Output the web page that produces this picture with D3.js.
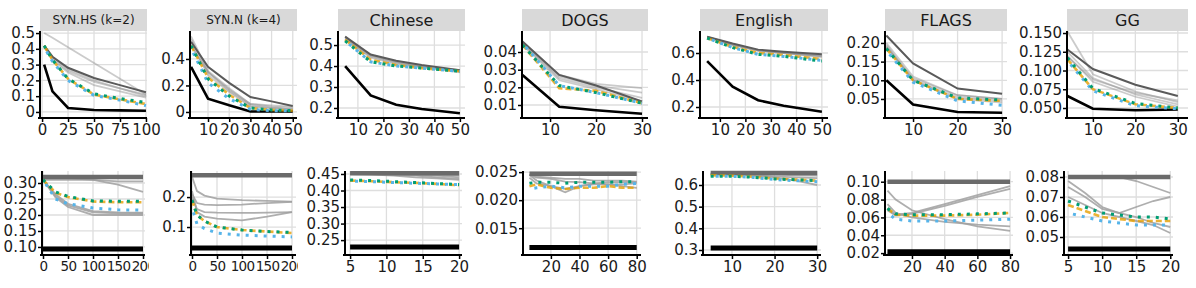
<!DOCTYPE html>
<html>
<head>
<meta charset="utf-8">
<script src="https://cdn.jsdelivr.net/npm/d3@7"></script>
<style>
  body { margin: 0; background: #fff; }
  svg { display: block; font-family: "DejaVu Sans", sans-serif; }
</style>
</head>
<body>
<svg id="chart"></svg>
<script>
// ---- data ----
const datasets = ["SYN.HS (k=2)", "SYN.N (k=4)", "Chinese", "DOGS", "English", "FLAGS", "GG"];

// top row: error vs. x
const topX = [
  [2, 10, 25, 50, 75, 100],
  [2, 10, 20, 30, 40, 50],
  [5, 15, 25, 35, 50],
  [4, 12, 20, 30],
  [5, 15, 25, 35, 50],
  [4, 10, 20, 30],
  [4, 10, 20, 30]
];
const topBlack = [
  [0.30, 0.13, 0.025, 0.012, 0.010, 0.008],
  [0.34, 0.10, 0.05, 0.004, 0.003, 0.003],
  [0.40, 0.26, 0.215, 0.195, 0.175],
  [0.027, 0.009, 0.007, 0.005],
  [0.54, 0.35, 0.25, 0.21, 0.165],
  [0.10, 0.035, 0.015, 0.013],
  [0.066, 0.049, 0.047, 0.048]
];
const topDark = [
  [0.42, 0.35, 0.28, 0.215, 0.17, 0.125],
  [0.53, 0.34, 0.22, 0.113, 0.08, 0.045],
  [0.54, 0.455, 0.425, 0.405, 0.38],
  [0.046, 0.027, 0.021, 0.012],
  [0.72, 0.67, 0.625, 0.61, 0.59],
  [0.22, 0.145, 0.078, 0.064],
  [0.128, 0.102, 0.081, 0.066]
];
const topGreys = [
  [[0.50, 0.47, 0.41, 0.31, 0.21, 0.11], [0.42, 0.34, 0.26, 0.19, 0.15, 0.11],
   [0.41, 0.33, 0.25, 0.17, 0.13, 0.09], [0.42, 0.35, 0.27, 0.20, 0.15, 0.10]],
  [[0.55, 0.30, 0.17, 0.06, 0.04, 0.03], [0.52, 0.28, 0.15, 0.04, 0.03, 0.02],
   [0.50, 0.30, 0.16, 0.05, 0.03, 0.02], [0.57, 0.31, 0.18, 0.06, 0.05, 0.04]],
  [[0.54, 0.45, 0.42, 0.40, 0.375], [0.53, 0.445, 0.415, 0.395, 0.37],
   [0.535, 0.45, 0.42, 0.40, 0.38], [0.53, 0.44, 0.41, 0.395, 0.375]],
  [[0.046, 0.027, 0.022, 0.0195], [0.045, 0.026, 0.021, 0.017],
   [0.045, 0.025, 0.020, 0.014], [0.044, 0.024, 0.019, 0.012]],
  [[0.72, 0.66, 0.62, 0.605, 0.58], [0.71, 0.66, 0.615, 0.60, 0.575],
   [0.72, 0.665, 0.62, 0.60, 0.57], [0.715, 0.66, 0.62, 0.60, 0.58]],
  [[0.20, 0.11, 0.06, 0.05], [0.19, 0.10, 0.055, 0.045],
   [0.19, 0.105, 0.06, 0.05], [0.195, 0.10, 0.05, 0.04]],
  [[0.152, 0.095, 0.072, 0.058], [0.125, 0.09, 0.068, 0.055],
   [0.12, 0.085, 0.065, 0.052], [0.118, 0.088, 0.07, 0.06]]
];
const topOrange = [
  [0.42, 0.33, 0.21, 0.11, 0.08, 0.05],
  [0.50, 0.26, 0.13, 0.03, 0.015, 0.01],
  [0.525, 0.43, 0.405, 0.39, 0.375],
  [0.044, 0.0195, 0.018, 0.011],
  [0.71, 0.645, 0.60, 0.585, 0.555],
  [0.185, 0.10, 0.05, 0.045],
  [0.115, 0.075, 0.055, 0.05]
];
const topBlue = [
  [0.41, 0.32, 0.20, 0.105, 0.075, 0.04],
  [0.48, 0.22, 0.10, 0.02, 0.01, 0.01],
  [0.52, 0.42, 0.40, 0.39, 0.375],
  [0.045, 0.021, 0.017, 0.011],
  [0.71, 0.64, 0.59, 0.575, 0.545],
  [0.18, 0.095, 0.045, 0.033],
  [0.113, 0.073, 0.053, 0.049]
];
const topGreen = [
  [0.42, 0.33, 0.21, 0.115, 0.085, 0.06],
  [0.50, 0.25, 0.12, 0.03, 0.015, 0.01],
  [0.52, 0.42, 0.40, 0.39, 0.375],
  [0.044, 0.021, 0.017, 0.011],
  [0.71, 0.64, 0.59, 0.575, 0.54],
  [0.185, 0.10, 0.053, 0.047],
  [0.117, 0.076, 0.056, 0.05]
];
const topXTicks = [[0, 25, 50, 75, 100], [10, 20, 30, 40, 50], [10, 20, 30, 40, 50],
  [10, 20, 30], [10, 20, 30, 40, 50], [10, 20, 30], [10, 20, 30]];
const topYTicks = [[0, 0.1, 0.2, 0.3, 0.4, 0.5], [0, 0.2, 0.4], [0.2, 0.3, 0.4, 0.5],
  [0.01, 0.02, 0.03, 0.04], [0.2, 0.4, 0.6], [0.05, 0.10, 0.15, 0.20],
  [0.05, 0.075, 0.10, 0.125, 0.15]];

// bottom row
const bottomX = [
  [0, 25, 50, 100, 150, 200],
  [0, 10, 25, 50, 100, 150, 200],
  [5, 8, 11, 14, 17, 20],
  [5, 10, 20, 30, 40, 50, 60, 70, 80],
  [5, 10, 15, 20, 25, 30],
  [5, 10, 20, 40, 60, 80],
  [5, 7.5, 10, 12.5, 15, 17.5, 20]
];
const bottomBlack = [0.094, 0.03, 0.229, 0.01155, 0.309, 0.0215, 0.044];
const bottomDark = [0.319, 0.273, 0.452, 0.0247, 0.655, 0.10, 0.08];
const bottomGreys = [
  [[0.31, 0.31, 0.31, 0.31, 0.305, 0.305], [0.32, 0.315, 0.315, 0.31, 0.295, 0.272],
   [0.31, 0.255, 0.225, 0.20, 0.20, 0.20], [0.31, 0.265, 0.235, 0.212, 0.208, 0.207],
   [0.31, 0.26, 0.23, 0.208, 0.205, 0.205]],
  [[0.268, 0.22, 0.205, 0.195, 0.19, 0.187, 0.185], [0.21, 0.18, 0.175, 0.173, 0.175, 0.18, 0.184],
   [0.20, 0.16, 0.15, 0.148, 0.147, 0.148, 0.15], [0.22, 0.15, 0.135, 0.128, 0.122, 0.135, 0.15]],
  [[0.452, 0.452, 0.45, 0.448, 0.445, 0.44], [0.452, 0.45, 0.448, 0.445, 0.44, 0.435],
   [0.452, 0.452, 0.451, 0.45, 0.448, 0.445], [0.45, 0.448, 0.445, 0.44, 0.437, 0.432]],
  [[0.0245, 0.0235, 0.0225, 0.0214, 0.0225, 0.023, 0.0232, 0.0232, 0.0232],
   [0.024, 0.023, 0.0225, 0.022, 0.0225, 0.0228, 0.0228, 0.0228, 0.023],
   [0.0245, 0.0242, 0.024, 0.0238, 0.0238, 0.0235, 0.0235, 0.0235, 0.0233],
   [0.0245, 0.024, 0.0238, 0.0233, 0.0232, 0.023, 0.0228, 0.0225, 0.0222]],
  [[0.652, 0.65, 0.645, 0.635, 0.62, 0.60], [0.65, 0.648, 0.645, 0.64, 0.635, 0.632],
   [0.652, 0.652, 0.65, 0.648, 0.645, 0.643]],
  [[0.07, 0.063, 0.065, 0.075, 0.085, 0.095], [0.068, 0.062, 0.064, 0.073, 0.083, 0.092],
   [0.09, 0.08, 0.068, 0.058, 0.05, 0.045], [0.075, 0.065, 0.06, 0.055, 0.052, 0.05]],
  [[0.08, 0.08, 0.08, 0.08, 0.078, 0.075, 0.072], [0.075, 0.07, 0.064, 0.062, 0.06, 0.057, 0.055],
   [0.07, 0.066, 0.062, 0.06, 0.058, 0.056, 0.052], [0.078, 0.072, 0.065, 0.062, 0.065, 0.068, 0.07]]
];
const bottomOrange = [
  [0.31, 0.27, 0.256, 0.242, 0.24, 0.24],
  [0.19, 0.14, 0.12, 0.10, 0.09, 0.085, 0.08],
  [0.43, 0.428, 0.425, 0.423, 0.42, 0.416],
  [0.0225, 0.0228, 0.0222, 0.022, 0.0222, 0.0222, 0.0225, 0.0222, 0.0222],
  [0.645, 0.643, 0.638, 0.63, 0.625, 0.62],
  [0.07, 0.063, 0.062, 0.062, 0.063, 0.065],
  [0.066, 0.063, 0.06, 0.059, 0.058, 0.058, 0.058]
];
const bottomBlue = [
  [0.31, 0.25, 0.235, 0.222, 0.216, 0.215],
  [0.165, 0.11, 0.095, 0.08, 0.073, 0.07, 0.067],
  [0.428, 0.427, 0.424, 0.422, 0.42, 0.418],
  [0.022, 0.0222, 0.0225, 0.0222, 0.0225, 0.0225, 0.0225, 0.0228, 0.023],
  [0.64, 0.64, 0.635, 0.625, 0.62, 0.615],
  [0.065, 0.058, 0.056, 0.056, 0.057, 0.058],
  [0.062, 0.06, 0.058, 0.057, 0.056, 0.056, 0.056]
];
const bottomGreen = [
  [0.31, 0.272, 0.258, 0.244, 0.243, 0.243],
  [0.19, 0.14, 0.12, 0.10, 0.09, 0.085, 0.082],
  [0.432, 0.43, 0.427, 0.424, 0.421, 0.418],
  [0.023, 0.0232, 0.0232, 0.023, 0.0232, 0.0232, 0.0232, 0.0233, 0.0233],
  [0.64, 0.64, 0.636, 0.628, 0.624, 0.62],
  [0.07, 0.064, 0.063, 0.063, 0.064, 0.065],
  [0.068, 0.065, 0.062, 0.061, 0.06, 0.06, 0.059]
];
const bottomXTicks = [[0, 50, 100, 150, 200], [0, 50, 100, 150, 200], [5, 10, 15, 20],
  [20, 40, 60, 80], [10, 20, 30], [20, 40, 60, 80], [5, 10, 15, 20]];
const bottomYTicks = [[0.10, 0.15, 0.20, 0.25, 0.30], [0.1, 0.2], [0.25, 0.30, 0.35, 0.40, 0.45],
  [0.015, 0.020, 0.025], [0.3, 0.4, 0.5, 0.6], [0.02, 0.04, 0.06, 0.08, 0.10],
  [0.05, 0.06, 0.07, 0.08]];

// ---- layout ----
const width = 1196, height = 288;
const topXRange = [[40, 147], [190, 297], [338, 465], [522, 648], [700, 828], [885, 1007], [1067, 1188]];
const topXDomain = [[-2, 101], [1.5, 52], [2.2, 52], [3.9, 31.3], [2.2, 52.4], [3.7, 31.1], [3.9, 32.4]];
const topYDomain = [[-0.032, 0.513], [-0.038, 0.611], [0.157, 0.567], [0.0032, 0.0519],
  [0.126, 0.763], [0.0017, 0.232], [0.038, 0.1527]];
const topYFormat = ["", "", ".1f", ".2f", ".1f", ".2f", ".3f"];

const bottomXRange = [[42, 145], [191, 296], [345, 462], [523, 641], [703, 821], [885, 1013], [1064, 1173]];
const bottomXDomain = [[-2, 204], [-2, 208], [4.3, 20.4], [0.5, 83], [3.2, 30.9], [3.5, 81.8], [4.4, 20.4]];
const bottomYDomain = [[0.078, 0.3375], [0.01, 0.287], [0.208, 0.459], [0.0104, 0.0252],
  [0.2815, 0.6646], [0.019, 0.112], [0.0415, 0.083]];
const bottomYFormat = [".2f", ".1f", ".2f", ".3f", ".1f", ".2f", ".2f"];
const bottomClipRight = [149, 298, 480, 660, 840, 1030, 1196];
const bottomXFont = ["13.5px", "13.5px", "15px", "15px", "15px", "15px", "15px"];

const svg = d3.select('#chart').attr('width', width).attr('height', height);

const rows = [
  { top: 31, bottom: 117, xs: topX, black: topBlack, dark: topDark, greys: topGreys,
    orange: topOrange, blue: topBlue, green: topGreen, xTicks: topXTicks, yTicks: topYTicks,
    xRange: topXRange, xDomain: topXDomain, yDomain: topYDomain, yFormat: topYFormat, strip: true },
  { top: 171, bottom: 254, xs: bottomX, black: bottomBlack, dark: bottomDark, greys: bottomGreys,
    orange: bottomOrange, blue: bottomBlue, green: bottomGreen, xTicks: bottomXTicks, yTicks: bottomYTicks,
    xRange: bottomXRange, xDomain: bottomXDomain, yDomain: bottomYDomain, yFormat: bottomYFormat, strip: false }
];

rows.forEach((row, r) => {
  datasets.forEach((name, i) => {
    const x = d3.scaleLinear().domain(row.xDomain[i]).range(row.xRange[i]);
    const y = d3.scaleLinear().domain(row.yDomain[i]).range([row.bottom, row.top]);
    const xs = row.xs[i];
    const [x0, x1] = row.xRange[i];

    const g = svg.append('g');

    // grid
    g.selectAll('.vgrid').data(row.xTicks[i]).enter().append('line')
      .attr('x1', d => x(d)).attr('x2', d => x(d))
      .attr('y1', row.top).attr('y2', row.bottom)
      .attr('stroke', '#dedede').attr('stroke-width', 1.3);
    g.selectAll('.hgrid').data(row.yTicks[i]).enter().append('line')
      .attr('x1', x0).attr('x2', x1)
      .attr('y1', d => y(d)).attr('y2', d => y(d))
      .attr('stroke', '#dedede').attr('stroke-width', 1.3);

    // strip
    if (row.strip) {
      g.append('rect')
        .attr('x', x0).attr('y', 9).attr('width', x1 - x0).attr('height', 22)
        .attr('fill', '#d9d9d9');
      g.append('text')
        .attr('x', (x0 + x1) / 2).attr('y', 20)
        .attr('dy', '0.36em')
        .attr('text-anchor', 'middle')
        .attr('font-size', name.startsWith('SYN') ? '12px' : '16px')
        .attr('fill', '#1a1a1a')
        .text(name);
    }

    const line = d3.line().x((d, j) => x(xs[j])).y(d => y(d));
    const flat = v => [v, v].map((d, j) => ({ px: x(j === 0 ? xs[0] : xs[xs.length - 1]), py: y(d) }));

    // grey lines
    row.greys[i].forEach(vals => {
      g.append('path').datum(vals)
        .attr('d', line)
        .attr('fill', 'none')
        .attr('stroke', r === 0 ? '#8c8c8c' : '#a0a0a0')
        .attr('stroke-opacity', r === 0 ? 0.45 : 0.85)
        .attr('stroke-width', 1.8);
    });

    // dark grey + black
    if (r === 0) {
      g.append('path').datum(row.dark[i]).attr('d', line)
        .attr('fill', 'none').attr('stroke', '#5a5a5a').attr('stroke-width', 2);
      g.append('path').datum(row.black[i]).attr('d', line)
        .attr('fill', 'none').attr('stroke', '#000').attr('stroke-width', 2.6);
    } else {
      const lineFlat = d3.line().x(d => d.px).y(d => d.py);
      g.append('path').datum(flat(row.dark[i])).attr('d', lineFlat)
        .attr('fill', 'none').attr('stroke', '#6b6b6b').attr('stroke-width', 4.5);
      g.append('path').datum(flat(row.black[i])).attr('d', lineFlat)
        .attr('fill', 'none').attr('stroke', '#000').attr('stroke-width', 5);
    }

    // coloured lines
    g.append('path').datum(row.orange[i]).attr('d', line)
      .attr('fill', 'none').attr('stroke', '#E69F00').attr('stroke-width', 2.6)
      .attr('stroke-dasharray', '6,3').attr('stroke-opacity', 0.8);
    g.append('path').datum(row.blue[i]).attr('d', line)
      .attr('fill', 'none').attr('stroke', '#56B4E9').attr('stroke-width', 3)
      .attr('stroke-dasharray', '3,6').attr('stroke-dashoffset', 4);
    g.append('path').datum(row.green[i]).attr('d', line)
      .attr('fill', 'none').attr('stroke', '#009E73').attr('stroke-width', 3)
      .attr('stroke-dasharray', '3,6');

    // axes
    const yAxis = d3.axisLeft(y).tickValues(row.yTicks[i])
      .tickFormat(d3.format(row.yFormat[i])).tickSize(4).tickSizeOuter(0).tickPadding(1);
    const xAxis = d3.axisBottom(x).tickValues(row.xTicks[i])
      .tickFormat(d3.format('d')).tickSize(4).tickSizeOuter(0).tickPadding(2);

    const ya = g.append('g').attr('transform', `translate(${x0},0)`).call(yAxis);
    ya.select('.domain').attr('d', `M0,${row.top}V${row.bottom + 2}`);

    // clip rect is in the x-axis group's own coordinates
    const clipId = `clip-${r}-${i}`;
    svg.append('clipPath').attr('id', clipId).append('rect')
      .attr('x', x0 - 10).attr('y', -5)
      .attr('width', (r === 1 ? bottomClipRight[i] : x1 + 20) - (x0 - 10)).attr('height', 40);
    const xa = g.append('g').attr('transform', `translate(0,${row.bottom + 1})`)
      .attr('clip-path', `url(#${clipId})`).call(xAxis);
    xa.select('.domain').attr('d', `M${x0 - 2},0H${x1}`);

    [ya, xa].forEach(a => {
      a.select('.domain').attr('stroke', '#000').attr('stroke-width', 2);
      a.selectAll('.tick line').attr('stroke', '#000').attr('stroke-width', 1.5);
      a.selectAll('.tick text').attr('font-size', '15px').attr('fill', '#1a1a1a')
        .attr('font-family', '"DejaVu Sans", sans-serif');
    });
    if (r === 1) {
      xa.selectAll('.tick text').attr('font-size', bottomXFont[i])
        .attr('letter-spacing', i < 2 ? '-0.7px' : null);
    }
  });
});
</script>
</body>
</html>
